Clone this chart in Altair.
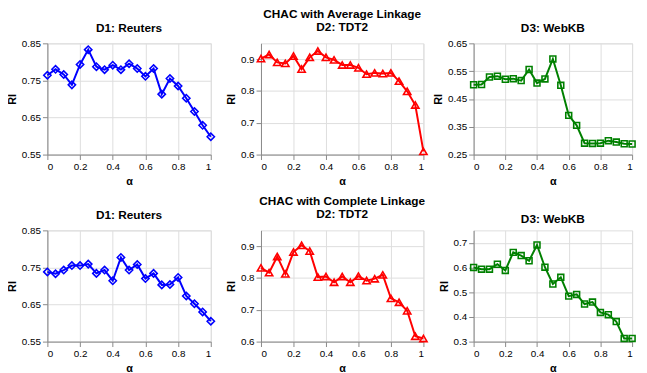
import altair as alt
import pandas as pd

ALPHA = [0, 0.05, 0.1, 0.15, 0.2, 0.25, 0.3, 0.35, 0.4, 0.45, 0.5,
         0.55, 0.6, 0.65, 0.7, 0.75, 0.8, 0.85, 0.9, 0.95, 1.0]

AVG_REUTERS = [0.764, 0.780, 0.766, 0.738, 0.793, 0.833, 0.787, 0.779, 0.791, 0.779, 0.795,
               0.782, 0.761, 0.782, 0.713, 0.755, 0.735, 0.702, 0.666, 0.629, 0.598]
AVG_TDT2 = [0.902, 0.915, 0.890, 0.887, 0.910, 0.869, 0.906, 0.926, 0.906, 0.898, 0.882,
            0.882, 0.873, 0.853, 0.857, 0.855, 0.857, 0.831, 0.799, 0.756, 0.610]
AVG_WEBKB = [0.501, 0.502, 0.529, 0.532, 0.521, 0.523, 0.516, 0.556, 0.507, 0.522, 0.594,
             0.499, 0.391, 0.355, 0.291, 0.290, 0.291, 0.300, 0.295, 0.289, 0.288]

CMP_REUTERS = [0.738, 0.733, 0.743, 0.755, 0.755, 0.759, 0.734, 0.743, 0.714, 0.777, 0.743,
               0.758, 0.720, 0.734, 0.703, 0.704, 0.723, 0.673, 0.652, 0.630, 0.605]
CMP_TDT2 = [0.832, 0.817, 0.868, 0.813, 0.882, 0.903, 0.885, 0.803, 0.805, 0.787, 0.805,
            0.787, 0.806, 0.792, 0.798, 0.810, 0.736, 0.724, 0.697, 0.617, 0.610]
CMP_WEBKB = [0.600, 0.593, 0.593, 0.613, 0.588, 0.661, 0.648, 0.627, 0.691, 0.601, 0.533,
             0.560, 0.484, 0.491, 0.452, 0.460, 0.418, 0.409, 0.381, 0.313, 0.313]

X_TICKS = [0, 0.2, 0.4, 0.6, 0.8, 1]
TICKS_REUTERS = [0.55, 0.65, 0.75, 0.85]
TICKS_TDT2 = [0.6, 0.7, 0.8, 0.9]
TICKS_WEBKB_AVG = [0.25, 0.35, 0.45, 0.55, 0.65]
TICKS_WEBKB_CMP = [0.3, 0.4, 0.5, 0.6, 0.7]

BLUE = "#0000FF"
RED = "#FF0000"
GREEN = "#008000"

FONT = "Liberation Sans"
H = 113


def panel(values, title, color, shape, domain, ticks, fmt, width, size, offset):
    df = pd.DataFrame({"alpha": ALPHA, "RI": values})
    x = alt.X("alpha:Q",
              scale=alt.Scale(domain=[0, 1], nice=False, zero=False),
              axis=alt.Axis(values=X_TICKS, format="~g", title="α"))
    y = alt.Y("RI:Q",
              scale=alt.Scale(domain=domain, nice=False, zero=False),
              axis=alt.Axis(values=ticks, format=fmt, title="RI"))
    base = alt.Chart(df).encode(x=x, y=y)
    line = base.mark_line(color=color, strokeWidth=2, clip=False)
    pts = base.mark_point(shape=shape, color=color, filled=False, size=size,
                          strokeWidth=1.6, opacity=1, clip=False)
    return alt.layer(line, pts).properties(
        width=width, height=H,
        title=alt.TitleParams(text=title, font=FONT, fontSize=12, fontWeight="bold",
                              color="black", offset=offset, lineHeight=13),
    )


panels = [
    panel(AVG_REUTERS, "D1: Reuters", BLUE, "diamond", [0.55, 0.85], TICKS_REUTERS, ".2f", 166, 55, 4),
    panel(AVG_TDT2, ["CHAC with Average Linkage", "D2: TDT2"], RED, "triangle-up", [0.6, 0.95],
          TICKS_TDT2, ".1f", 165, 55, 10),
    panel(AVG_WEBKB, "D3: WebKB", GREEN, "square", [0.25, 0.65], TICKS_WEBKB_AVG, ".2f", 161, 36, 4),
    panel(CMP_REUTERS, "D1: Reuters", BLUE, "diamond", [0.55, 0.85], TICKS_REUTERS, ".2f", 166, 55, 4),
    panel(CMP_TDT2, ["CHAC with Complete Linkage", "D2: TDT2"], RED, "triangle-up", [0.6, 0.95],
          TICKS_TDT2, ".1f", 165, 55, 10),
    panel(CMP_WEBKB, "D3: WebKB", GREEN, "square", [0.3, 0.75], TICKS_WEBKB_CMP, ".1f", 161, 36, 4),
]

chart = alt.concat(
    *panels, columns=3, bounds="flush",
    spacing=alt.RowColnumber(row=77, column=51),
).properties(
    padding={"left": -2, "top": -4, "right": 0, "bottom": -3},
).configure_view(
    stroke="black", strokeWidth=1
).configure_axis(
    domain=False,
    ticks=False,
    grid=True,
    gridColor="#9a9a9a",
    gridDash=[1, 2],
    gridWidth=1,
    labelFont=FONT,
    labelFontSize=10,
    labelFontWeight="bold",
    labelColor="black",
    labelFlush=False,
    labelOverlap=False,
    titleColor="black",
).configure_axisX(
    labelPadding=2,
    titleFont="Liberation Serif",
    titleFontSize=14,
    titleFontWeight="normal",
    titleY=20,
    titleBaseline="alphabetic",
).configure_axisY(
    labelPadding=2,
    titleFont=FONT,
    titleFontSize=9,
    titleFontWeight="bold",
    titleX=-27,
    titleBaseline="alphabetic",
).configure(background="white")

chart.save("out.html", embed_options={"renderer": "svg", "actions": False})
